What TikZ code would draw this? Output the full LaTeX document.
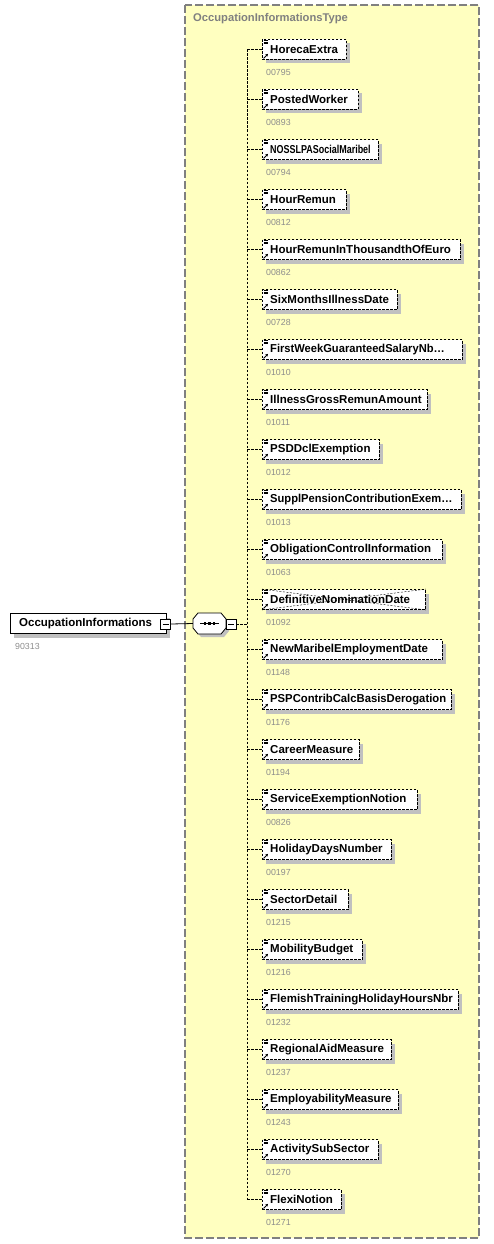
\documentclass[tikz,border=0pt]{standalone}
\usepackage{fontspec}
\usepackage{graphicx}
\setmainfont{Liberation Sans}
\usetikzlibrary{shadows,arrows.meta}
\definecolor{boxyellow}{RGB}{255,255,192}
\definecolor{bordergrey}{RGB}{128,128,128}
\definecolor{codegrey}{RGB}{140,140,140}
\definecolor{shadowgrey}{RGB}{192,192,192}
\tikzset{
  elembox/.style={draw=black, dash pattern=on 2.5pt off 1.5pt, line width=0.8pt, fill=white, minimum height=20pt, inner sep=0pt, anchor=west,
    general shadow={fill=shadowgrey, shadow xshift=4pt, shadow yshift=-4pt}},
  elemtext/.style={font=\fontsize{11.5}{13}\selectfont\bfseries, inner sep=0pt, anchor=west},
  codetext/.style={font=\fontsize{8.8}{10}\selectfont, text=codegrey, inner sep=0pt, anchor=west},
  conn/.style={line width=0.8pt, dash pattern=on 2.5pt off 1.5pt},
  minusbox/.style={draw=black, line width=0.8pt, fill=white, minimum width=10pt, minimum height=10pt, inner sep=0pt},
}
\begin{document}
\begin{tikzpicture}[x=1pt,y=-1pt]
\useasboundingbox (0,0) rectangle (494,1244);
% type container
\draw[fill=boxyellow, draw=bordergrey, line width=1.2pt, dash pattern=on 8pt off 3pt] (185,5) rectangle (479,1238);
\node[font=\fontsize{11.2}{13}\selectfont\bfseries, text=bordergrey, anchor=west, inner sep=0pt] (title) at (193,19) {OccupationInformationsType};

% main element
\node[draw=black, line width=0.8pt, fill=white, minimum width=156pt, minimum height=20pt, inner sep=0pt, anchor=west,
  general shadow={fill=shadowgrey, shadow xshift=4pt, shadow yshift=-4pt}] (main) at (10,623.5) {};
\node[elemtext, anchor=west] (maintext) at (19,623.5) {OccupationInformations};
\node[minusbox] (mminus) at (165.5,624) {};
\draw[line width=0.8pt] ([xshift=-3pt]mminus.center) -- ([xshift=3pt]mminus.center);
\node[codetext] (maincode) at (15,646) {90313};

% sequence compositor
\fill[shadowgrey] (196,622) -- (201,616) -- (224,616) -- (229,622) -- (229,631) -- (224,637) -- (201,637) -- (196,631) -- cycle;
\node[inner sep=0pt, minimum width=33pt, minimum height=21pt] (seq) at (209.5,623.5) {};
\draw[line width=0.8pt, fill=white] (193,619) -- (198,613) -- (221,613) -- (226,619) -- (226,628) -- (221,634) -- (198,634) -- (193,628) -- cycle;
\draw[line width=0.8pt] (200,623.5) -- (219,623.5);
\foreach \dx in {205,209.5,214} \fill (\dx-1.3,622.2) rectangle (\dx+1.3,624.8);
\node[minusbox] (sminus) at (231,624) {};
\draw[line width=0.8pt] ([xshift=-3pt]sminus.center) -- ([xshift=3pt]sminus.center);
\draw[line width=0.8pt] (mminus.east) -- (seq.west);

% children
\foreach \i/\r/\sx/\nm/\cd in {
 1/346/1/HorecaExtra/00795,
 2/358/1/PostedWorker/00893,
 3/378/0.78/NOSSLPASocialMaribel/00794,
 4/346/1/HourRemun/00812,
 5/460/1/HourRemunInThousandthOfEuro/00862,
 6/397/1/SixMonthsIllnessDate/00728,
 7/462/0.97/FirstWeekGuaranteedSalaryNb…/01010,
 8/427/1/IllnessGrossRemunAmount/01011,
 9/379/1/PSDDclExemption/01012,
 10/461/0.97/SupplPensionContributionExem…/01013,
 11/442/1/ObligationControlInformation/01063,
 12/425/1/DefinitiveNominationDate/01092,
 13/442/1/NewMaribelEmploymentDate/01148,
 14/451/0.98/PSPContribCalcBasisDerogation/01176,
 15/359/1/CareerMeasure/01194,
 16/417/1/ServiceExemptionNotion/00826,
 17/391/1/HolidayDaysNumber/00197,
 18/348/1/SectorDetail/01215,
 19/362/1/MobilityBudget/01216,
 20/458/1/FlemishTrainingHolidayHoursNbr/01232,
 21/391/1/RegionalAidMeasure/01237,
 22/398/1/EmployabilityMeasure/01243,
 23/378/1/ActivitySubSector/01270,
 24/341/1/FlexiNotion/01271}{
  \pgfmathsetmacro{\yy}{50*\i-0.5}
  \pgfmathsetmacro{\ww}{\r-262}
  \node[elembox, minimum width=\ww pt] (e\i) at (262,\yy) {};
  \node[elemtext] (t\i) at (270,\yy) {\scalebox{\sx}[1]{\nm}};
  \node[codetext] (c\i) at (266,\yy+22.5) {\cd};
  \coordinate (v\i) at (247,\yy);
  \draw[conn] (v\i) -- (e\i.west);
  % icons
  \draw[line width=0.6pt] ([shift={(1.5,1.5)}]e\i.north west) -- +(4.5,0)
     ([shift={(1.5,3)}]e\i.north west) -- +(4.5,0)
     ([shift={(1.5,4.5)}]e\i.north west) -- +(4.5,0);
  \draw[line width=0.9pt, -{Stealth[length=2.6pt,width=2.8pt]}] ([shift={(1.5,-1.5)}]e\i.south west) -- +(4.5,-4.5);
}
\draw[line width=0.4pt, dash pattern=on 2pt off 1.5pt] (e12.north west) -- (e12.south east) (e12.south west) -- (e12.north east);
\draw[conn] (v1) -- (v24);
\draw[conn] (sminus.east) -- (v12 |- sminus.east);
\end{tikzpicture}
\end{document}
